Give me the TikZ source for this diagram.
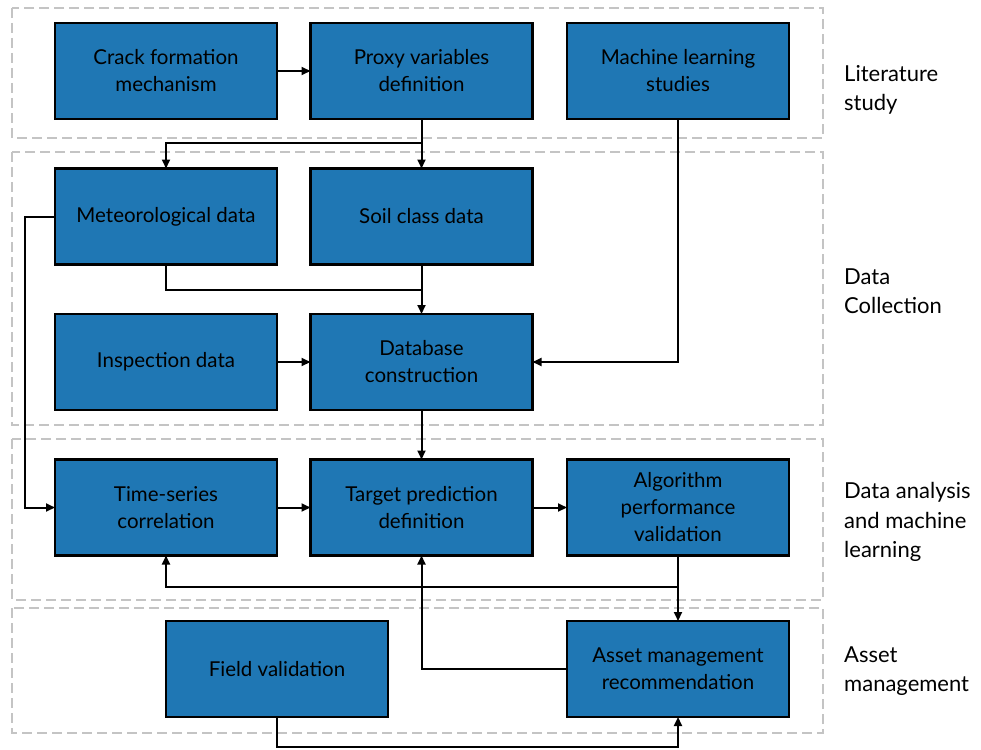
\documentclass[tikz,border=0pt]{standalone}
\usepackage{fontspec}
\setmainfont{Lato}
\usetikzlibrary{arrows.meta}
\definecolor{boxblue}{HTML}{1F77B4}
\definecolor{groupgray}{HTML}{C4C4C4}
\begin{document}
\begin{tikzpicture}[x=1pt,y=-1pt,
  stepbox/.style={draw=black, line width=2.4pt, fill=boxblue, minimum width=222pt,
    minimum height=96pt, inner sep=0pt, outer sep=0pt, align=center,
    font=\fontsize{20.5}{27}\selectfont},
  grouprect/.style={draw=groupgray, line width=1.4pt, dash pattern=on 10pt off 5pt},
  phase/.style={anchor=west, align=left, inner sep=0pt, font=\fontsize{22}{29.5}\selectfont},
  link/.style={draw=black, line width=2pt},
  arr/.style={link, -{Triangle[length=9pt,width=8pt]}}]
\useasboundingbox (0,0) rectangle (981,749);

% phase groups
\draw[grouprect] (12,8) rectangle (823,138);
\draw[grouprect] (12,152) rectangle (823,425);
\draw[grouprect] (12,439) rectangle (823,600);
\draw[grouprect] (12,608) rectangle (823,733);

% phase labels
\node[phase] (lblLit) at (844,90) {Literature\\study};
\node[phase] (lblData) at (844,291) {Data\\Collection};
\node[phase] (lblAna) at (844,522) {Data analysis\\and machine\\learning};
\node[phase] (lblAsset) at (844,671) {Asset\\management};

% process steps
\node[stepbox] (crack) at (166,71) {Crack formation\\mechanism};
\node[stepbox] (proxy) at (421.5,71) {Proxy variables\\definition};
\node[stepbox] (ml) at (678,71) {Machine learning\\studies};
\node[stepbox] (meteo) at (166,216.5) {Meteorological data};
\node[stepbox] (soil) at (421.5,216.5) {Soil class data};
\node[stepbox] (insp) at (166,362) {Inspection data};
\node[stepbox] (db) at (421.5,362) {Database\\construction};
\node[stepbox] (ts) at (166,507.5) {Time-series\\correlation};
\node[stepbox] (tp) at (421.5,507.5) {Target prediction\\definition};
\node[stepbox] (apv) at (678,507.5) {Algorithm\\performance\\validation};
\node[stepbox] (fv) at (277,669) {Field validation};
\node[stepbox] (amr) at (678,669) {Asset management\\recommendation};

% routing points
\coordinate (split) at (421.5,143);
\coordinate (merge) at (421.5,290);
\coordinate (mleft) at (25,216.5);
\coordinate (fback) at (678,587);
\coordinate (fvbot) at (277,747);

% connectors
\draw[arr] (crack) -- (proxy);
\draw[link] (proxy.south) -- (split);
\draw[arr] (split) -| (meteo.north);
\draw[arr] (split) -- (soil.north);
\draw[arr] (ml.south) |- (db.east);
\draw[link] (meteo.south) |- (merge);
\draw[arr] (soil.south) -- (db.north);
\draw[arr] (meteo.west) -- (mleft) |- (ts.west);
\draw[arr] (insp) -- (db);
\draw[arr] (db) -- (tp);
\draw[arr] (ts) -- (tp);
\draw[arr] (tp) -- (apv);
\draw[arr] (apv.south) -- (fback) -| (ts.south);
\draw[arr] (fback) -- (amr.north);
\draw[arr] (amr.west) -| (tp.south);
\draw[arr] (fv.south) -- (fvbot) -| (amr.south);
\end{tikzpicture}
\end{document}
